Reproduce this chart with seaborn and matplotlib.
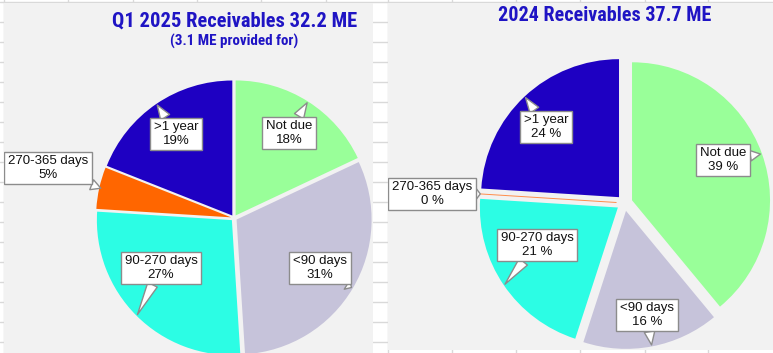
import matplotlib
matplotlib.use("Agg")
import matplotlib.pyplot as plt
import seaborn as sns
import numpy as np
from matplotlib.patches import Rectangle
from matplotlib import font_manager as fm

# ---------------- data ----------------
categories = ["Not due", "<90 days", "90-270 days", "270-365 days", ">1 year"]
q1_2025_share = [18, 31, 27, 5, 19]
y2024_share = [39, 16, 21, 0, 24]
title_q1 = "Q1 2025 Receivables 32.2 ME"
subtitle_q1 = "(3.1 ME provided for)"
title_2024 = "2024 Receivables 37.7 ME"

# ---------------- style ----------------
slice_colors = ["#99ff99", "#c6c3da", "#2cfde4", "#ff6600", "#1e00c2"]
TITLE_COLOR = "#1f14c4"
BG = "#f2f2f2"
GRID = "#d9d9d9"
EDGE = "#8c8c8c"

sns.set_theme(style="white")
plt.rcParams["font.family"] = ["Liberation Sans", "DejaVu Sans"]

W, H = 773, 353
fig = plt.figure(figsize=(W / 100, H / 100), dpi=100)
ax = fig.add_axes([0, 0, 1, 1])


def Y(py):
    return H - py


def condensed_family():
    names = {f.name for f in fm.fontManager.ttflist}
    for p in ["Roboto Condensed", "Liberation Sans Narrow", "Open Sans Condensed",
              "Noto Sans Condensed", "DejaVu Sans Condensed"]:
        if p in names:
            return p, "normal"
    for f in fm.fontManager.ttflist:
        if str(f.stretch) in ("condensed", "semi-condensed", "extra-condensed", "ultra-condensed"):
            return f.name, "condensed"
    return "Roboto", "normal"


# spreadsheet grid behind the chart areas
for py in range(2, H + 1, 20):
    ax.plot([0, W], [Y(py)] * 2, color=GRID, lw=1, zorder=0)
for px in [3.5, 68, 132.5, 197, 261, 325.5, 388, 452, 516, 580, 645, 708]:
    ax.plot([px, px], [0, H], color=GRID, lw=1, zorder=0)

rect_left = Rectangle((4, Y(353)), 369, 350, fc=BG, ec="none", zorder=0.5)
rect_right = Rectangle((388, Y(350)), 385, 347, fc=BG, ec="none", zorder=0.5)
ax.add_patch(rect_left)
ax.add_patch(rect_right)


def draw_pie(values, center, radius, gap, rect, label_pos, fmt):
    cx, cy = center[0], Y(center[1])
    wedges, _ = ax.pie(values, colors=slice_colors, startangle=90, counterclock=False,
                       center=(cx, cy), radius=radius, explode=[gap] * len(values),
                       wedgeprops=dict(linewidth=0))
    for w, cat, val, (bx, by) in zip(wedges, categories, values, label_pos):
        w.set_zorder(2)
        if val == 0:
            w.set_edgecolor("#ff8c4a")
            w.set_linewidth(0.7)
        th = np.deg2rad(0.5 * (w.theta1 + w.theta2))
        wx, wy = w.center
        tip = (wx + (radius - 1.5) * np.cos(th), wy + (radius - 1.5) * np.sin(th))
        ann = ax.annotate(
            fmt.format(cat, val), xy=tip, xytext=(bx, Y(by)),
            ha="center", va="center", fontsize=9.5, linespacing=1.12,
            color="#111111", zorder=5, annotation_clip=False,
            bbox=dict(boxstyle="square,pad=0.28", fc="white", ec=EDGE, lw=1),
            arrowprops=dict(arrowstyle="wedge,tail_width=0.8,shrink_factor=0.5",
                            fc="white", ec=EDGE, lw=1, shrinkA=0, shrinkB=0))
        ann.set_clip_path(rect)
        ann.arrow_patch.set_clip_path(rect)
    return wedges


draw_pie(q1_2025_share, (234, 218), 135, 3, rect_left,
         [(289, 133), (320, 268), (161, 268), (48, 168), (176, 134)], "{}\n{}%")
draw_pie(y2024_share, (624.5, 203), 138, 8, rect_right,
         [(723, 160), (647, 315), (537, 245), (432, 194), (546, 127)], "{}\n{} %")

ax.set_xlim(0, W)
ax.set_ylim(0, H)
ax.set_aspect("equal")
ax.axis("off")

fam, stretch = condensed_family()
renderer = fig.canvas.get_renderer()


def fitted_title(x, base_y, s, target_w):
    t = ax.text(x, Y(base_y), s, ha="center", va="baseline", color=TITLE_COLOR,
                fontweight="bold", family=fam, fontstretch=stretch, fontsize=16, zorder=6)
    w = t.get_window_extent(renderer=renderer).width
    t.set_fontsize(16 * target_w / w)
    return t


fitted_title(234.5, 27, title_q1, 245)
fitted_title(234, 46, subtitle_q1, 128)
fitted_title(605, 21, title_2024, 214)

fig.savefig("out.png", dpi=100, facecolor="white")
